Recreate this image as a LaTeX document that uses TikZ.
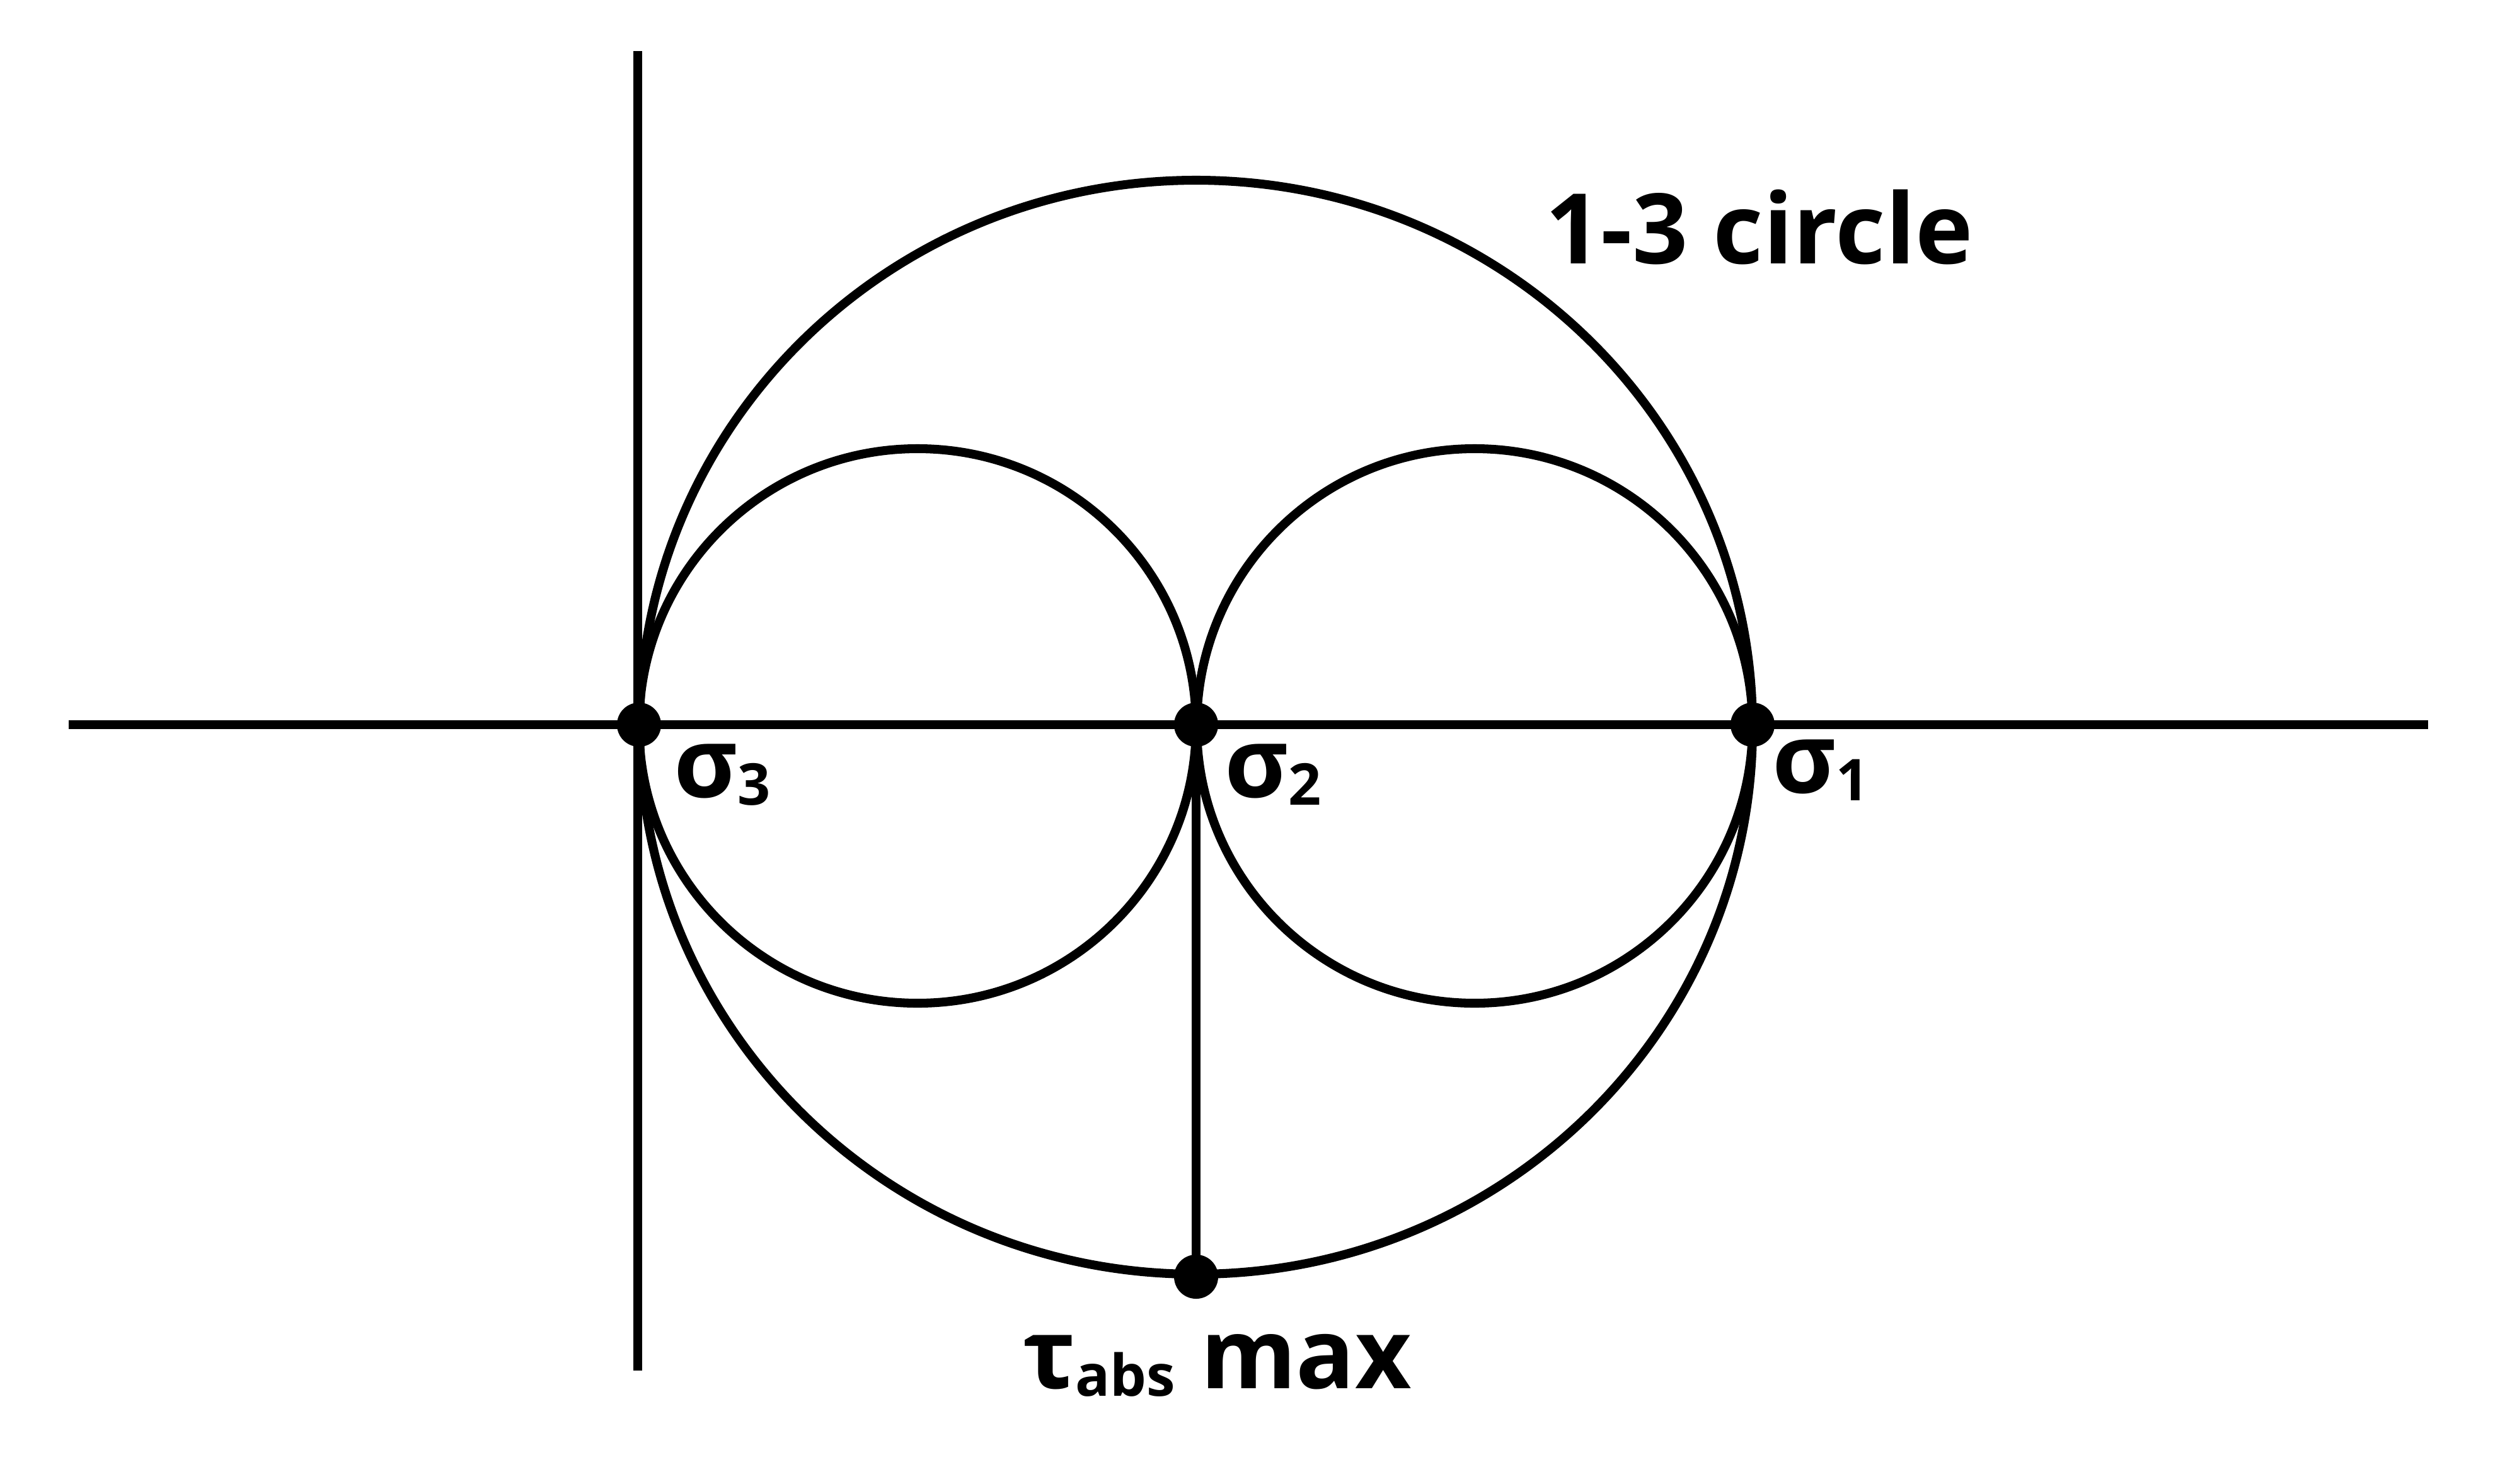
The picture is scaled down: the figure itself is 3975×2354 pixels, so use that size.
\documentclass[tikz,border=0pt]{standalone}
\usepackage{fontspec}
\setmainfont{Open Sans}
\usepackage{tikz}
\usetikzlibrary{positioning}

\newcommand\lowsub[1]{\raisebox{-3.5pt}{\fontsize{26}{28}\selectfont #1}}

\begin{document}
\begin{tikzpicture}[
        x=0.01cm, y=-0.01cm,
        line width=4pt,
        dot/.style={circle, fill, inner sep=0pt, minimum size=0.7cm},
        lbl/.style={anchor=base west, inner sep=0pt, font=\fontsize{44}{48}\selectfont\bfseries},
    ]
    \useasboundingbox (0,0) rectangle (3975,2354);

    % ---- Axes ----
    \coordinate (ax-l) at (109,1150);
    \coordinate (ax-r) at (3853,1150);
    \coordinate (ax-t) at (1012,81);
    \coordinate (ax-b) at (1012,2175);
    \draw (ax-l) -- (ax-r);
    \draw (ax-t) -- (ax-b);

    % ---- Mohr circles ----
    \draw (1898,1154) ellipse [x radius=883, y radius=868];
    \draw (1456,1152) ellipse [x radius=442, y radius=440];
    \draw (2340,1152) ellipse [x radius=441, y radius=440];

    % ---- Principal stresses ----
    \node[dot] (s3) at (1014,1150) {};
    \node[dot] (s2) at (1898,1150) {};
    \node[dot] (s1) at (2781,1150) {};
    \node[dot] (tmax) at (1898,2026) {};

    \draw (s2.center) -- (tmax.center);

    % ---- Labels ----
    \node[lbl] (s3-lbl) at (1062,1265) {σ\lowsub{3}};
    \node[lbl] (s2-lbl) at (1936,1265) {σ\lowsub{2}};
    \node[lbl] (s1-lbl) at (2805,1258) {σ\lowsub{1}};
    \node[lbl] (tmax-lbl) at (1616,2203) {τ\lowsub{abs} max};
    \node[lbl] (circ-lbl) at (2445,418) {1-3 circle};
\end{tikzpicture}
\end{document}
